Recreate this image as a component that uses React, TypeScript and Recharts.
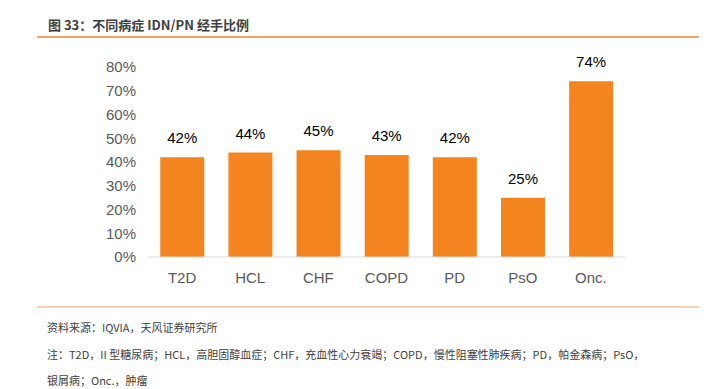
import { Bar, BarChart, LabelList, XAxis, YAxis } from "recharts";

const categories = ["T2D", "HCL", "CHF", "COPD", "PD", "PsO", "Onc."];
const shares = [42, 44, 45, 43, 42, 25, 74];
const yTicks = [0, 10, 20, 30, 40, 50, 60, 70, 80];

const data = categories.map((name, i) => ({ name, value: shares[i] }));

const cjk = '"Noto Sans CJK SC", "Noto Sans", sans-serif';
const arial = '"Liberation Sans", Arial, sans-serif';

export default function App() {
  return (
    <div
      style={{
        position: "absolute",
        left: 0,
        top: 0,
        width: 718,
        height: 389,
        background: "#fff",
        overflow: "hidden",
      }}
    >
      <div
        style={{
          position: "absolute",
          left: 48,
          top: 15,
          fontFamily: cjk,
          fontWeight: 700,
          fontSize: 13,
          lineHeight: "20px",
          color: "#404040",
        }}
      >
        图 33：不同病症 IDN/PN 经手比例
      </div>
      <div
        style={{
          position: "absolute",
          left: 37,
          top: 36,
          width: 662,
          height: 2,
          background: "#f6a35c",
        }}
      />

      <div style={{ position: "absolute", left: 0, top: 0 }}>
        <BarChart
          width={718}
          height={389}
          data={data}
          margin={{ top: 67, right: 93, bottom: 102, left: 88 }}
          barCategoryGap="18%"
        >
          <XAxis
            dataKey="name"
            height={30}
            axisLine={{ stroke: "#d9d9d9" }}
            tickLine={false}
            tickMargin={9}
            tick={{ fontSize: 15, fill: "#595959", fontFamily: arial }}
          />
          <YAxis
            width={60}
            domain={[0, 80]}
            ticks={yTicks}
            axisLine={false}
            tickLine={false}
            tickMargin={6}
            tickFormatter={(v) => `${v}%`}
            tick={{ fontSize: 15, fill: "#595959", fontFamily: arial }}
          />
          <Bar dataKey="value" fill="#f38420" isAnimationActive={false}>
            <LabelList
              dataKey="value"
              position="top"
              offset={14}
              formatter={(v: number) => `${v}%`}
              style={{ fontSize: 15, fill: "#000", fontFamily: arial }}
            />
          </Bar>
        </BarChart>
      </div>

      <div
        style={{
          position: "absolute",
          left: 37,
          top: 306,
          width: 662,
          height: 2,
          background: "#fbd3b0",
        }}
      />
      <div
        style={{
          position: "absolute",
          left: 47,
          top: 314,
          fontFamily: cjk,
          fontSize: 11,
          lineHeight: "26.5px",
          color: "#404040",
          width: 660,
        }}
      >
        <div>资料来源：IQVIA，天风证券研究所</div>
        <div>
          注：T2D，II 型糖尿病；HCL，高胆固醇血症；CHF，充血性心力衰竭；COPD，慢性阻塞性肺疾病；PD，帕金森病；PsO，
        </div>
        <div>银屑病；Onc.，肿瘤</div>
      </div>
    </div>
  );
}
